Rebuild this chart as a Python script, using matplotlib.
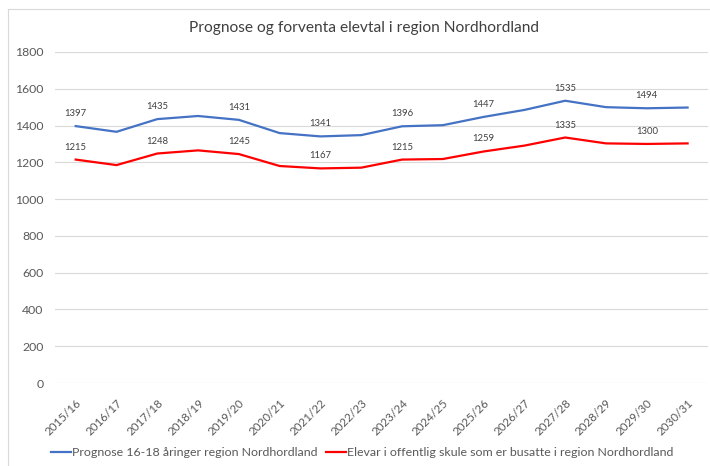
import numpy as np
import matplotlib.pyplot as plt
from matplotlib.lines import Line2D

plt.rcParams['font.family'] = ['Lato', 'DejaVu Sans']

seasons = ["2015/16", "2016/17", "2017/18", "2018/19", "2019/20", "2020/21",
           "2021/22", "2022/23", "2023/24", "2024/25", "2025/26", "2026/27",
           "2027/28", "2028/29", "2029/30", "2030/31"]
prognose = [1397, 1366, 1435, 1452, 1431, 1359, 1341, 1348,
            1396, 1402, 1447, 1485, 1535, 1500, 1494, 1498]
elevar = [1215, 1185, 1248, 1265, 1245, 1180, 1167, 1171,
          1215, 1218, 1259, 1291, 1335, 1303, 1300, 1303]
yticks = [0, 200, 400, 600, 800, 1000, 1200, 1400, 1600, 1800]

title = "Prognose og forventa elevtal i region Nordhordland"
label_blue = "Prognose 16-18 åringer region Nordhordland"
label_red = "Elevar i offentlig skule som er busatte i region Nordhordland"

W, H = 710, 466
fig = plt.figure(figsize=(W / 100, H / 100), dpi=100)
ax = fig.add_axes([55.3 / W, 1 - 383 / H, (708 - 55.3) / W, (383 - 52) / H])

x = np.arange(len(seasons))
ax.plot(x, prognose, color="#4472C4", lw=1.6, solid_joinstyle="round")
ax.plot(x, elevar, color="#FF0000", lw=1.6, solid_joinstyle="round")

# labels on every other point, like the source
for i in range(0, len(seasons), 2):
    ax.annotate(str(prognose[i]), (x[i], prognose[i]), xytext=(0, 9),
                textcoords="offset points", ha="center", va="center",
                fontsize=6.8, color="#404040")
    ax.annotate(str(elevar[i]), (x[i], elevar[i]), xytext=(0, 9),
                textcoords="offset points", ha="center", va="center",
                fontsize=6.8, color="#404040")

ax.set_xlim(-0.5, len(seasons) - 0.5)
ax.set_ylim(0, 1800)
ax.set_yticks(yticks)
ax.set_yticklabels([str(v) for v in yticks], fontsize=8.8, color="#595959")
ax.set_xticks(x)
ax.set_xticklabels(seasons, rotation=45, ha="right", rotation_mode="anchor",
                   fontsize=8.4, color="#595959")
ax.tick_params(length=0)
ax.tick_params(axis="y", pad=8.5)
ax.tick_params(axis="x", pad=10)
ax.grid(axis="y", color="#D9D9D9", lw=0.8)
ax.set_axisbelow(True)
for s in ax.spines.values():
    s.set_visible(False)

fig.text(364 / W, 1 - 28 / H, title, ha="center", va="center",
         fontsize=11.2, color="#404040")

handles = [Line2D([], [], color="#4472C4", lw=1.6),
           Line2D([], [], color="#FF0000", lw=1.6)]
fig.legend(handles, [label_blue, label_red], loc="center",
           bbox_to_anchor=(362 / W, 1 - 453 / H), ncol=2, frameon=False,
           fontsize=8.9, handlelength=1.6, handletextpad=0.1, columnspacing=0.7,
           labelcolor="#595959")

# outer chart frame
fig.add_artist(Line2D([8 / W, 1], [1 - 9 / H, 1 - 9 / H], color="#D9D9D9", lw=0.8))
fig.add_artist(Line2D([8 / W, 8 / W], [0, 1 - 9 / H], color="#D9D9D9", lw=0.8))

fig.savefig("out.png", dpi=100)
